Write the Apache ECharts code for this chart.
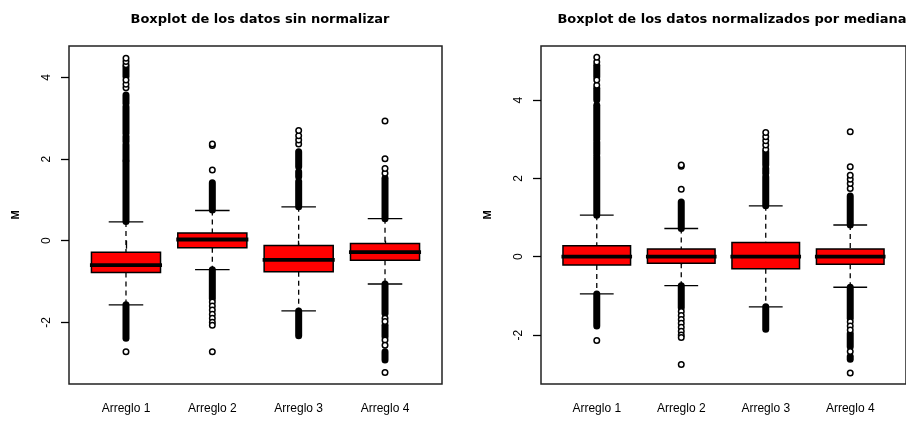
<!DOCTYPE html>
<html>
<head>
<meta charset="utf-8">
<script src="https://cdn.jsdelivr.net/npm/echarts@6/dist/echarts.min.js"></script>
<style>html,body{margin:0;padding:0;background:#fff;}#chart{width:906px;height:421px;}</style>
</head>
<body>
<div id="chart"></div>
<script>
// ---- data ----
const categories = ['Arreglo 1', 'Arreglo 2', 'Arreglo 3', 'Arreglo 4'];
const positions = [1, 2, 3, 4];
const yTickValues = [-2, 0, 2, 4];
const titles = ['Boxplot de los datos sin normalizar', 'Boxplot de los datos normalizados por mediana'];
const yAxisName = 'M';

// panel 1: raw data
const rawLowWhisker = [-1.57, -0.71, -1.72, -1.06];
const rawQ1 = [-0.78, -0.17, -0.76, -0.48];
const rawMedian = [-0.60, 0.03, -0.47, -0.28];
const rawQ3 = [-0.28, 0.19, -0.12, -0.07];
const rawHighWhisker = [0.46, 0.74, 0.83, 0.54];
const rawOutliers = [
  [3.75, 3.83, 3.94, 4.31, 4.39, 4.47, -2.72],
  [1.73, 2.33, 2.37, -1.5, -1.6, -1.7, -1.8, -1.9, -2.0, -2.07, -2.72],
  [2.37, 2.47, 2.57, 2.70],
  [1.65, 1.77, 2.01, 2.93, -1.9, -1.98, -2.43, -2.56, -3.23]
];
// ranges where outlier circles are so dense they merge into a solid column
const rawDenseOutliers = [
  [[0.47, 1.94], [1.98, 2.35], [2.43, 2.55], [2.63, 3.28], [3.37, 3.57], [4.02, 4.26], [-2.39, -1.57]],
  [[0.75, 1.42], [-1.42, -0.71]],
  [[0.83, 1.45], [1.57, 1.69], [1.81, 2.18], [-2.33, -1.72]],
  [[0.54, 1.53], [-1.78, -1.06], [-2.35, -2.07], [-2.92, -2.72]]
];

// panel 2: median-normalized data
const normLowWhisker = [-0.95, -0.74, -1.28, -0.78];
const normQ1 = [-0.21, -0.17, -0.31, -0.19];
const normMedian = [0, 0, 0, 0];
const normQ3 = [0.28, 0.20, 0.36, 0.20];
const normHighWhisker = [1.06, 0.72, 1.30, 0.81];
const normOutliers = [
  [4.38, 4.51, 4.97, 5.09, -2.14],
  [1.72, 2.31, 2.34, -1.4, -1.5, -1.6, -1.7, -1.8, -1.9, -2.0, -2.06, -2.75],
  [2.74, 2.85, 2.96, 3.06, 3.17],
  [1.74, 1.87, 1.98, 2.08, 2.30, 3.19, -1.66, -1.77, -1.87, -2.42, -2.97]
];
const normDenseOutliers = [
  [[1.06, 2.55], [2.62, 2.93], [3.0, 3.87], [4.0, 4.3], [4.59, 4.89], [-1.77, -0.95]],
  [[0.72, 1.4], [-1.3, -0.74]],
  [[1.3, 2.04], [2.13, 2.25], [2.34, 2.68], [-1.85, -1.28]],
  [[0.81, 1.55], [-1.57, -0.78], [-2.3, -1.96], [-2.62, -2.55]]
];

// axis ranges (R adds 4% to the data range)
const rawYRange = [-3.51, 4.77];
const normYRange = [-3.25, 5.38];
const xRange = [0.34, 4.66];

// ---- build chart ----
const chart = echarts.init(document.getElementById('chart'));

function boxRender(params, api) {
  const x = api.value(0);
  const lo = api.value(1), q1 = api.value(2), med = api.value(3), q3 = api.value(4), hi = api.value(5);
  const tl = api.coord([x - 0.4, q3]);
  const br = api.coord([x + 0.4, q1]);
  const cx = api.coord([x, med])[0];
  const yMed = api.coord([x, med])[1];
  const yLo = api.coord([x, lo])[1];
  const yHi = api.coord([x, hi])[1];
  const capL = api.coord([x - 0.2, lo])[0];
  const capR = api.coord([x + 0.2, lo])[0];
  const dash = { stroke: '#000', lineWidth: 1.3, lineDash: [5, 4] };
  const solid = { stroke: '#000', lineWidth: 1.3 };
  return {
    type: 'group',
    children: [
      { type: 'line', shape: { x1: cx, y1: yHi, x2: cx, y2: tl[1] }, style: dash },
      { type: 'line', shape: { x1: cx, y1: br[1], x2: cx, y2: yLo }, style: dash },
      { type: 'line', shape: { x1: capL, y1: yHi, x2: capR, y2: yHi }, style: solid },
      { type: 'line', shape: { x1: capL, y1: yLo, x2: capR, y2: yLo }, style: solid },
      { type: 'rect', shape: { x: tl[0], y: tl[1], width: br[0] - tl[0], height: br[1] - tl[1] },
        style: { fill: '#ff0000', stroke: '#000', lineWidth: 1.5 } },
      { type: 'line', shape: { x1: tl[0] - 1.5, y1: yMed, x2: br[0] + 1.5, y2: yMed },
        style: { stroke: '#000', lineWidth: 3.8 } }
    ]
  };
}

function denseRender(params, api) {
  const x = api.value(0);
  const pHi = api.coord([x, api.value(2)]);
  const pLo = api.coord([x, api.value(1)]);
  const w = 7;
  return {
    type: 'rect',
    shape: { x: pHi[0] - w / 2, y: pHi[1] - w / 2, width: w, height: pLo[1] - pHi[1] + w, r: w / 2 },
    style: { fill: '#000' }
  };
}

function panelSeries(idx, lows, q1s, meds, q3s, highs, outliers, dense) {
  const boxData = positions.map((p, i) => [p, lows[i], q1s[i], meds[i], q3s[i], highs[i]]);
  const denseData = [];
  dense.forEach((list, i) => list.forEach(r => denseData.push([positions[i], r[0], r[1]])));
  const pointData = [];
  outliers.forEach((list, i) => list.forEach(v => pointData.push([positions[i], v])));
  return [
    { type: 'custom', xAxisIndex: idx, yAxisIndex: idx, renderItem: boxRender, data: boxData,
      encode: { x: 0, y: [1, 2, 3, 4, 5] }, silent: true, z: 2 },
    { type: 'custom', xAxisIndex: idx, yAxisIndex: idx, renderItem: denseRender, data: denseData,
      encode: { x: 0, y: [1, 2] }, silent: true, z: 3 },
    { type: 'scatter', xAxisIndex: idx, yAxisIndex: idx, data: pointData, symbol: 'circle', symbolSize: 5.5,
      itemStyle: { color: '#fff', borderColor: '#000', borderWidth: 1.5, opacity: 1 }, silent: true, z: 4 }
  ];
}

const labelFont = { color: '#000', fontFamily: 'Liberation Sans', fontSize: 12 };

function xAxisCfg(idx) {
  return {
    type: 'value', gridIndex: idx, min: xRange[0], max: xRange[1],
    axisLine: { show: false },
    splitLine: { show: false },
    axisTick: { show: true, length: 8, customValues: positions, lineStyle: { color: '#000', width: 1.3 } },
    axisLabel: Object.assign({ customValues: positions, margin: 19,
      formatter: v => categories[positions.indexOf(Math.round(v))] || '' }, labelFont)
  };
}
function yAxisCfg(idx, range) {
  return {
    type: 'value', gridIndex: idx, min: range[0], max: range[1],
    name: yAxisName, nameLocation: 'middle', nameRotate: 90, nameGap: 48,
    nameTextStyle: { color: '#000', fontFamily: 'Liberation Sans', fontSize: 11, fontWeight: 'bold' },
    axisLine: { show: false },
    splitLine: { show: false },
    axisTick: { show: true, length: 8, customValues: yTickValues, lineStyle: { color: '#000', width: 1.3 } },
    axisLabel: Object.assign({ customValues: yTickValues, rotate: 90, margin: 16 }, labelFont)
  };
}

const gridStyle = { show: true, borderColor: '#222', borderWidth: 1.5, backgroundColor: 'transparent' };
const titleStyle = { fontFamily: 'DejaVu Sans', fontWeight: 'bold', fontSize: 13, color: '#000' };

chart.setOption({
  backgroundColor: '#fff',
  animation: false,
  title: [
    { text: titles[0], left: 255, top: 8, textAlign: 'center', textStyle: titleStyle },
    { text: titles[1], left: 727, top: 8, textAlign: 'center', textStyle: titleStyle }
  ],
  grid: [
    Object.assign({ left: 69, top: 46, width: 373, height: 338 }, gridStyle),
    Object.assign({ left: 541, top: 46, width: 372, height: 338 }, gridStyle)
  ],
  xAxis: [xAxisCfg(0), xAxisCfg(1)],
  yAxis: [yAxisCfg(0, rawYRange), yAxisCfg(1, normYRange)],
  series: [].concat(
    panelSeries(0, rawLowWhisker, rawQ1, rawMedian, rawQ3, rawHighWhisker, rawOutliers, rawDenseOutliers),
    panelSeries(1, normLowWhisker, normQ1, normMedian, normQ3, normHighWhisker, normOutliers, normDenseOutliers)
  )
});
</script>
</body>
</html>
